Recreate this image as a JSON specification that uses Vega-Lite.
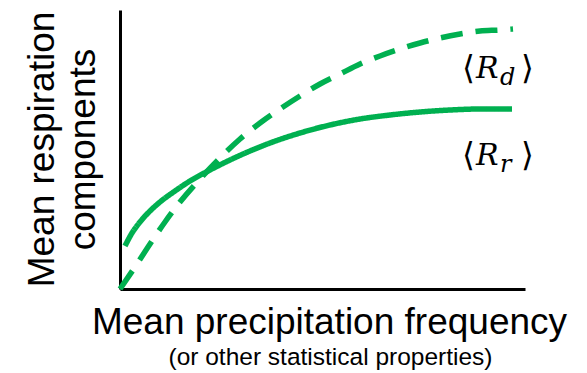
{
  "$schema": "https://vega.github.io/schema/vega-lite/v6.json",
  "width": 405,
  "height": 279,
  "autosize": {"type": "none"},
  "padding": {"left": 120, "top": 10, "right": 62, "bottom": 84},
  "background": "white",
  "config": {"view": {"stroke": null}},
  "title": {
    "text": "(or other statistical properties)",
    "orient": "bottom",
    "frame": "group",
    "anchor": "middle",
    "font": "Liberation Sans",
    "fontSize": 24.5,
    "fontWeight": "normal",
    "color": "black",
    "offset": 6,
    "dx": 8
  },
  "datasets": {
    "curves": [
      {"series": "Rd", "x": 0, "y": 0},
      {"series": "Rd", "x": 15, "y": 22},
      {"series": "Rd", "x": 30, "y": 45},
      {"series": "Rd", "x": 45, "y": 67},
      {"series": "Rd", "x": 60, "y": 87},
      {"series": "Rd", "x": 80, "y": 110},
      {"series": "Rd", "x": 100, "y": 131},
      {"series": "Rd", "x": 120, "y": 150},
      {"series": "Rd", "x": 140, "y": 166},
      {"series": "Rd", "x": 160, "y": 180},
      {"series": "Rd", "x": 180, "y": 193},
      {"series": "Rd", "x": 200, "y": 205},
      {"series": "Rd", "x": 220, "y": 215},
      {"series": "Rd", "x": 240, "y": 225},
      {"series": "Rd", "x": 260, "y": 233},
      {"series": "Rd", "x": 280, "y": 240},
      {"series": "Rd", "x": 300, "y": 246},
      {"series": "Rd", "x": 320, "y": 251},
      {"series": "Rd", "x": 340, "y": 255},
      {"series": "Rd", "x": 360, "y": 258},
      {"series": "Rd", "x": 380, "y": 259},
      {"series": "Rd", "x": 393, "y": 260},
      {"series": "Rr", "x": 5, "y": 43},
      {"series": "Rr", "x": 12, "y": 56},
      {"series": "Rr", "x": 20, "y": 67},
      {"series": "Rr", "x": 30, "y": 78},
      {"series": "Rr", "x": 40, "y": 87},
      {"series": "Rr", "x": 55, "y": 98},
      {"series": "Rr", "x": 70, "y": 108},
      {"series": "Rr", "x": 90, "y": 119},
      {"series": "Rr", "x": 110, "y": 129},
      {"series": "Rr", "x": 130, "y": 138},
      {"series": "Rr", "x": 150, "y": 146},
      {"series": "Rr", "x": 180, "y": 156},
      {"series": "Rr", "x": 210, "y": 164},
      {"series": "Rr", "x": 240, "y": 170},
      {"series": "Rr", "x": 270, "y": 174},
      {"series": "Rr", "x": 300, "y": 177},
      {"series": "Rr", "x": 330, "y": 179},
      {"series": "Rr", "x": 360, "y": 180},
      {"series": "Rr", "x": 392, "y": 180}
    ],
    "labels": [
      {"sub": "d", "x": 345, "y": 211},
      {"sub": "r", "x": 345, "y": 124}
    ]
  },
  "layer": [
    {
      "data": {"name": "curves"},
      "mark": {"type": "line", "color": "#00B050", "strokeWidth": 5.5, "interpolate": "monotone", "strokeCap": "butt"},
      "encoding": {
        "x": {
          "field": "x",
          "type": "quantitative",
          "scale": {"domain": [0, 405], "nice": false, "zero": false},
          "axis": {
            "title": "Mean precipitation frequency",
            "titleFont": "Liberation Sans",
            "titleFontSize": 37,
            "titleFontWeight": "normal",
            "titleColor": "black",
            "titleX": 209,
            "titleY": 44,
            "titleAlign": "center",
            "titleBaseline": "alphabetic",
            "domain": true,
            "domainColor": "black",
            "domainWidth": 3,
            "ticks": false,
            "labels": false,
            "grid": false
          }
        },
        "y": {
          "field": "y",
          "type": "quantitative",
          "scale": {"domain": [0, 279], "nice": false, "zero": false},
          "axis": {
            "title": ["Mean respiration", "components"],
            "titleFont": "Liberation Sans",
            "titleFontSize": 37,
            "titleFontWeight": "normal",
            "titleColor": "black",
            "titleAngle": -90,
            "titleX": -67,
            "titleY": 139,
            "titleAlign": "center",
            "titleBaseline": "alphabetic",
            "titleLineHeight": 41,
            "domain": true,
            "domainColor": "black",
            "domainWidth": 3,
            "ticks": false,
            "labels": false,
            "grid": false
          }
        },
        "detail": {"field": "series"},
        "strokeDash": {
          "field": "series",
          "type": "nominal",
          "scale": {"domain": ["Rd", "Rr"], "range": [[22, 13], [1, 0]]},
          "legend": null
        }
      }
    },
    {
      "data": {"name": "labels"},
      "mark": {"type": "text", "text": "⟨", "font": "DejaVu Serif", "fontSize": 33, "align": "left", "baseline": "alphabetic", "color": "black", "dx": -3, "dy": 1},
      "encoding": {"x": {"field": "x", "type": "quantitative"}, "y": {"field": "y", "type": "quantitative"}}
    },
    {
      "data": {"name": "labels"},
      "mark": {"type": "text", "text": "R", "font": "DejaVu Serif", "fontStyle": "italic", "fontSize": 30, "align": "left", "baseline": "alphabetic", "color": "black", "dx": 11},
      "encoding": {"x": {"field": "x", "type": "quantitative"}, "y": {"field": "y", "type": "quantitative"}}
    },
    {
      "data": {"name": "labels"},
      "mark": {"type": "text", "font": "DejaVu Serif", "fontStyle": "italic", "fontSize": 24, "align": "left", "baseline": "alphabetic", "color": "black", "dx": 35, "dy": 7},
      "encoding": {"x": {"field": "x", "type": "quantitative"}, "y": {"field": "y", "type": "quantitative"}, "text": {"field": "sub"}}
    },
    {
      "data": {"name": "labels"},
      "mark": {"type": "text", "text": "⟩", "font": "DejaVu Serif", "fontSize": 33, "align": "left", "baseline": "alphabetic", "color": "black", "dx": 56, "dy": 1},
      "encoding": {"x": {"field": "x", "type": "quantitative"}, "y": {"field": "y", "type": "quantitative"}}
    }
  ]
}
